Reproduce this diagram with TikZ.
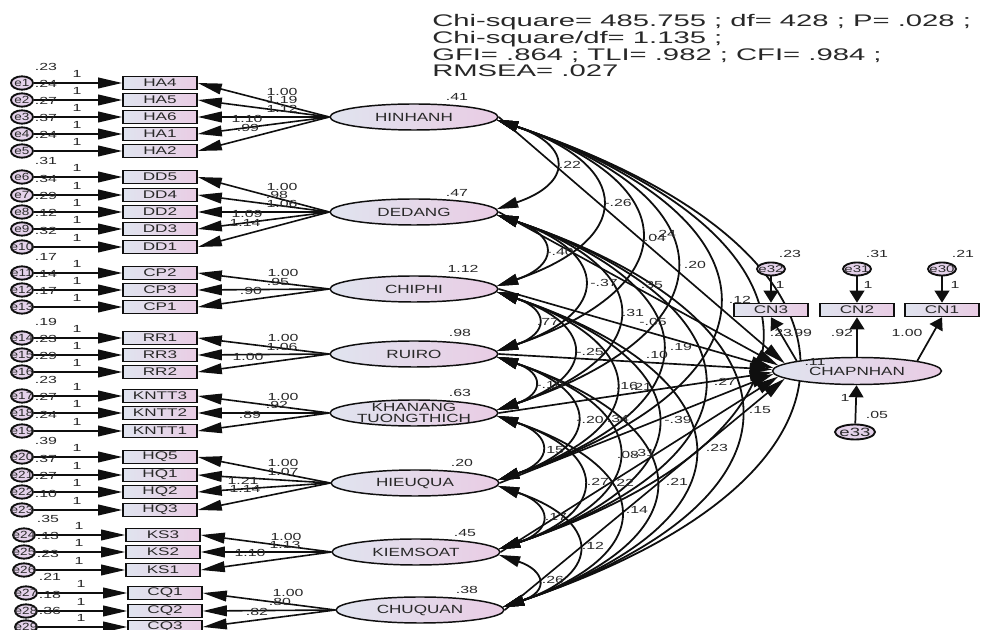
\documentclass[tikz,border=0pt]{standalone}
\usepackage{fontspec}
\setmainfont{Liberation Sans}
\newfontfamily\hdrfont[FakeStretch=1.74]{Liberation Sans}
\newfontfamily\numfont[FakeStretch=1.55]{Liberation Sans}
\newfontfamily\latfont[FakeStretch=1.44]{Liberation Sans}
\newfontfamily\errfont[FakeStretch=1.3]{Liberation Sans}
\usetikzlibrary{arrows.meta,shapes.geometric,backgrounds}

\definecolor{fillL}{RGB}{224,228,239}
\definecolor{fillR}{RGB}{233,204,228}
\definecolor{errfill}{RGB}{228,210,234}
\definecolor{edge}{RGB}{15,15,15}
\definecolor{ink}{RGB}{40,40,40}

\begin{document}
\begin{tikzpicture}[x=0.75pt,y=-0.75pt,
  obs/.style={draw=edge, line width=1.2pt, rectangle, minimum width=55.5pt,
    minimum height=9.75pt, inner sep=0pt, left color=fillL, right color=fillR,
    text=ink, font=\numfont\fontsize{8.3}{9}\selectfont},
  lat/.style={draw=edge, line width=1.1pt, ellipse, minimum width=126pt,
    minimum height=19.5pt, inner sep=0pt, left color=fillL, right color=fillR},
  err/.style={draw=edge, line width=1.4pt, ellipse, minimum width=16.5pt,
    minimum height=10pt, inner sep=0pt, fill=errfill},
  errB/.style={err, minimum width=21pt, minimum height=9.75pt},
  errC/.style={err, minimum width=30pt, minimum height=11.25pt},
  numtxt/.style={inner sep=0pt, text=ink, font=\numfont\fontsize{7.7}{8}\selectfont},
  lattxt/.style={inner sep=0pt, align=center, text=ink, font=\latfont\fontsize{8.9}{9}\selectfont},
  errtxt/.style={inner sep=0pt, text=ink, font=\errfont\fontsize{7.8}{8}\selectfont},
  errtxtB/.style={inner sep=0pt, text=ink, font=\numfont\fontsize{7.3}{8}\selectfont},
  errtxtC/.style={inner sep=0pt, text=ink, font=\numfont\fontsize{9}{10}\selectfont},
  hdr/.style={anchor=base west, inner sep=0pt, text=ink, font=\hdrfont\fontsize{12.6}{14}\selectfont},
  ldpath/.style={line width=1.2pt, edge, -{Triangle[length=18pt,width=8pt]}},
  regpath/.style={line width=1.25pt, edge, -{Triangle[length=17pt,width=8pt]}},
  covpath/.style={line width=1.35pt, edge,
    {Triangle[length=16pt,width=8pt]}-{Triangle[length=16pt,width=8pt]}},
  vpath/.style={line width=1.3pt, edge, -{Triangle[length=9pt,width=11pt]}}
]
\useasboundingbox (0,0) rectangle (983,630);

% fit indices
\node[hdr] (fit1) at (432,27) {Chi-square= 485.755 ; df= 428 ; P= .028 ;};
\node[hdr] (fit2) at (432,44) {Chi-square/df= 1.135 ;};
\node[hdr] (fit3) at (432,61) {GFI= .864 ; TLI= .982 ; CFI= .984 ;};
\node[hdr] (fit4) at (432,77) {RMSEA= .027};

% latent factors
\node[lat, alias=L1] (HINHANH)  at (414,117) {};
\node[lat, alias=L2] (DEDANG)   at (414,212) {};
\node[lat, alias=L3] (CHIPHI)   at (414,289) {};
\node[lat, alias=L4] (RUIRO)    at (414,354) {};
\node[lat, alias=L5] (KNTT)     at (414,413) {};
\node[lat, alias=L6] (HIEUQUA)  at (415,483) {};
\node[lat, alias=L7] (KIEMSOAT) at (416,552) {};
\node[lat, alias=L8] (CHUQUAN)  at (420,610) {};
\foreach \n in {HINHANH,DEDANG,CHIPHI,RUIRO,HIEUQUA,KIEMSOAT,CHUQUAN}
  \node[lattxt] (t\n) at (\n) {\n};
\node[lattxt] (tKNTT) at (KNTT) {KHANANG\\[-1pt]TUONGTHICH};

% observed indicators with their error terms
\foreach \bx/\ex/\yy/\b/\e/\v/\L in {
  160/22/83/HA4/e1/.23/HINHANH, 160/22/100/HA5/e2/.24/HINHANH,
  160/22/117/HA6/e3/.27/HINHANH, 160/22/134/HA1/e4/.37/HINHANH,
  160/22/151/HA2/e5/.24/HINHANH,
  160/22/177/DD5/e6/.31/DEDANG, 160/22/195/DD4/e7/.34/DEDANG,
  160/22/212/DD2/e8/.29/DEDANG, 160/22/229/DD3/e9/.12/DEDANG,
  160/22/247/DD1/e10/.32/DEDANG,
  160/22/273/CP2/e11/.17/CHIPHI, 160/22/290/CP3/e12/.14/CHIPHI,
  160/22/307/CP1/e13/.17/CHIPHI,
  160/22/338/RR1/e14/.19/RUIRO, 160/22/355/RR3/e15/.23/RUIRO,
  160/22/372/RR2/e16/.29/RUIRO,
  160/22/396/KNTT3/e17/.23/KNTT, 160/22/413/KNTT2/e18/.27/KNTT,
  160/22/431/KNTT1/e19/.24/KNTT,
  160/22/457/HQ5/e20/.39/HIEUQUA, 160/22/475/HQ1/e21/.37/HIEUQUA,
  160/22/492/HQ2/e22/.27/HIEUQUA, 160/22/510/HQ3/e23/.10/HIEUQUA,
  163/24/535/KS3/e24/.35/KIEMSOAT, 163/24/552/KS2/e25/.13/KIEMSOAT,
  163/24/570/KS1/e26/.23/KIEMSOAT,
  165/26/593/CQ1/e27/.21/CHUQUAN, 165/26/611/CQ2/e28/.18/CHUQUAN,
  165/26/627/CQ3/e29/.36/CHUQUAN}{
  \node[obs] (\b) at (\bx,\yy) {\b};
  \node[err] (\e) at (\ex,\yy) {};
  \node[errtxt] (lbl\e) at (\e) {\e};
  \node[numtxt] (var\e) at (\ex+24,\yy-16) {\v};
  \node[numtxt] (one\e) at (\ex+55,\yy-9) {1};
  \draw[ldpath] (\e) -- (\b);
  \draw[ldpath] (\L.west) -- (\b.east);
}

% factor loadings
\foreach \tx/\px/\py [count=\k] in {
  1.00/282/92, 1.19/282/100, 1.12/282/109, 1.10/247/119, .99/248/128,
  1.00/282/187, .98/277/195, 1.06/282/204, 1.09/247/214, 1.14/245/223,
  1.00/283/273, .95/278/282, .90/251/291,
  1.00/283/338, 1.06/282/347, 1.00/248/357,
  1.00/283/397, .92/277/405, .89/250/415,
  1.00/283/463, 1.07/283/472, 1.21/243/481, 1.14/245/489,
  1.00/286/537, 1.13/285/545, 1.10/250/553,
  1.00/288/593, .80/280/602, .82/257/612}
  \node[numtxt] (ld\k) at (\px,\py) {\tx};

% factor variances
\foreach \tx/\px/\py [count=\k] in {
  .41/457/97, .47/457/193, 1.12/463/269, .98/460/333,
  .63/460/393, .20/462/463, .45/465/533, .38/467/590}
  \node[numtxt] (fv\k) at (\px,\py) {\tx};

% dependent factor and its indicators
\node[lat, minimum width=126.75pt, minimum height=20.25pt] (CHAPNHAN) at (857,371) {};
\node[lattxt] (tCHAPNHAN) at (CHAPNHAN) {CHAPNHAN};
\node[obs] (CN3) at (771,310) {CN3};
\node[obs] (CN2) at (857,310) {CN2};
\node[obs] (CN1) at (942,310) {CN1};
\node[errB] (e32) at (771,269) {};
\node[errB] (e31) at (857,269) {};
\node[errB] (e30) at (942,269) {};
\node[errC] (e33) at (855,432) {};
\foreach \e in {e30,e31,e32} \node[errtxtB] (lbl\e) at (\e) {\e};
\node[errtxtC] (lble33) at (e33) {e33};
\draw[vpath] (e32) -- (CN3);
\draw[vpath] (e31) -- (CN2);
\draw[vpath] (e30) -- (CN1);
\draw[vpath] (CHAPNHAN.north west) -- (CN3.south);
\draw[vpath] (CHAPNHAN.north) -- (CN2.south);
\draw[vpath] (CHAPNHAN.north east) -- (CN1.south);
\draw[vpath] (e33) -- (CHAPNHAN);
\foreach \tx/\px/\py [count=\k] in {
  .23/790/254, .31/877/254, .21/963/254,
  1/780/285, 1/868/285, 1/955/285,
  .12/740/300, .23/781/333, .99/801/333, .92/842/333, 1.00/907/333,
  .11/815/362, 1/845/398, .05/877/415}
  \node[numtxt] (cn\k) at (\px,\py) {\tx};

% covariances and structural paths, kept beneath the shapes
\begin{scope}[on background layer]
  \foreach \i/\yi in {1/117,2/212,3/289,4/354,5/413,6/483,7/552,8/610}{
    \foreach \j/\yj in {1/117,2/212,3/289,4/354,5/413,6/483,7/552,8/610}{
      \ifnum\j>\i
        \pgfmathsetmacro\dd{\yj-\yi}
        \draw[covpath] (L\i.-2) .. controls +(0.8*\dd,0.27*\dd)
          and +(0.8*\dd,-0.27*\dd) .. (L\j.2);
      \fi
    }
  }
  \foreach \L/\a in {HINHANH/174, DEDANG/176, CHIPHI/178, RUIRO/179,
                     KNTT/181, HIEUQUA/182, KIEMSOAT/184, CHUQUAN/186}
    \draw[regpath] (\L.east) -- (CHAPNHAN.\a);
\end{scope}

% estimates on covariances and structural paths
\foreach \tx/\px/\py [count=\k] in {
  .22/570/165, -.26/618/203, .04/655/238, .24/665/234, .20/695/265,
  -.40/560/252, -.37/604/283, .35/652/285, .31/633/313, -.05/653/322,
  .19/681/347, .10/657/355, .77/548/322, -.25/590/352, -.10/550/385,
  .16/627/386, .21/641/387, .27/725/382, -.20/590/420, .34/618/419,
  -.39/678/420, .15/760/410, .23/717/448, .15/553/450, .08/628/455,
  .31/644/453, .27/598/482, .22/623/483, .21/677/482, .14/637/510,
  .17/556/517, .12/593/546, .26/553/580}
  \node[numtxt] (st\k) at (\px,\py) {\tx};
\end{tikzpicture}
\end{document}
